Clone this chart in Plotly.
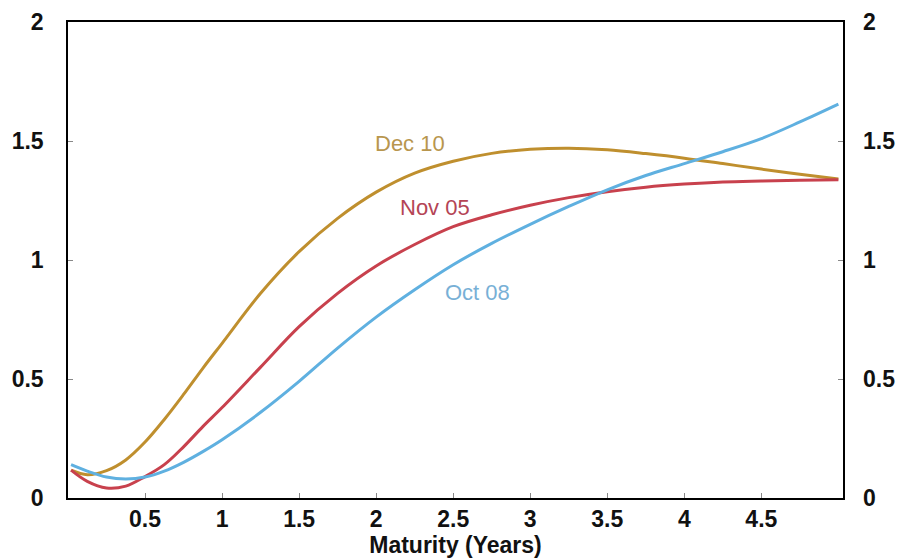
import plotly.graph_objects as go

maturity = [0.02, 0.125, 0.25, 0.375, 0.5, 0.625, 0.75, 0.875, 1.0, 1.25, 1.5, 1.75, 2.0,
            2.25, 2.5, 2.75, 3.0, 3.25, 3.5, 3.75, 4.0, 4.25, 4.5, 4.75, 5.0]

dec10 = [0.117, 0.098, 0.115, 0.160, 0.235, 0.330, 0.435, 0.545, 0.650, 0.860, 1.035, 1.175,
         1.285, 1.365, 1.415, 1.448, 1.465, 1.470, 1.463, 1.447, 1.428, 1.405, 1.382, 1.360,
         1.340]
nov05 = [0.117, 0.070, 0.042, 0.050, 0.090, 0.140, 0.215, 0.300, 0.380, 0.550, 0.720, 0.860,
         0.975, 1.065, 1.140, 1.190, 1.230, 1.262, 1.287, 1.306, 1.319, 1.328, 1.332, 1.335,
         1.337]
oct08 = [0.140, 0.113, 0.088, 0.080, 0.088, 0.113, 0.150, 0.195, 0.245, 0.360, 0.490, 0.630,
         0.760, 0.875, 0.980, 1.070, 1.150, 1.225, 1.295, 1.355, 1.405, 1.455, 1.510, 1.580,
         1.655]

series_names = ["Dec 10", "Nov 05", "Oct 08"]
line_colors = ["#bf8f2e", "#c8414d", "#5fb0e0"]
label_colors = ["#b8964e", "#b44455", "#78b0d6"]
label_pos = [(2.22, 1.49), (2.38, 1.22), (2.66, 0.865)]

x_ticks = [0.5, 1, 1.5, 2, 2.5, 3, 3.5, 4, 4.5]
x_ticklabels = ["0.5", "1", "1.5", "2", "2.5", "3", "3.5", "4", "4.5"]
y_ticks = [0, 0.5, 1, 1.5, 2]
y_ticklabels = ["0", "0.5", "1", "1.5", "2"]

fig = go.Figure()
for name, ys, col in zip(series_names, [dec10, nov05, oct08], line_colors):
    fig.add_trace(go.Scatter(x=maturity, y=ys, mode="lines", name=name,
                             line=dict(color=col, width=3, shape="spline", smoothing=1.0),
                             showlegend=False))
# invisible trace for right axis
fig.add_trace(go.Scatter(x=[maturity[0]], y=[dec10[0]], yaxis="y2", mode="markers",
                         marker=dict(opacity=0), showlegend=False, hoverinfo="skip"))

for name, (lx, ly), col in zip(series_names, label_pos, label_colors):
    fig.add_annotation(x=lx, y=ly, text=name, showarrow=False,
                       font=dict(family="Liberation Sans, Arial, sans-serif", size=22, color=col))

tickfont = dict(family="Liberation Sans, Arial, sans-serif", size=23, color="#111111", weight="bold")

fig.update_layout(
    width=903, height=560,
    margin=dict(l=68, r=60, t=22, b=62),
    paper_bgcolor="white", plot_bgcolor="white",
    xaxis=dict(range=[0, 5.03], tickmode="array", tickvals=x_ticks, ticktext=x_ticklabels,
               ticks="inside", ticklen=5, tickcolor="#888888", tickwidth=1,
               showline=True, linecolor="black", linewidth=1.5, mirror=True,
               showgrid=False, zeroline=False, tickfont=tickfont, automargin=False,
               title=dict(text="Maturity (Years)", standoff=2,
                          font=dict(family="Liberation Sans, Arial, sans-serif", size=23,
                                    color="#111111", weight="bold"))),
    yaxis=dict(range=[0, 2], tickmode="array", tickvals=y_ticks, ticktext=y_ticklabels,
               ticks="inside", ticklen=5, tickcolor="#888888", tickwidth=1,
               showline=True, linecolor="black", linewidth=1.5, mirror=True,
               showgrid=False, zeroline=False, tickfont=tickfont, ticklabelstandoff=18,
               automargin=False),
    yaxis2=dict(range=[0, 2], overlaying="y", side="right", tickmode="array",
                tickvals=y_ticks, ticktext=y_ticklabels,
                ticks="inside", ticklen=5, tickcolor="#888888", tickwidth=1,
                showline=False, showgrid=False, zeroline=False, tickfont=tickfont,
                ticklabelstandoff=19, automargin=False),
)

fig.write_html("out.html", config={"displayModeBar": False})

# remove the default browser page margin so the figure sits at the window's corner
with open("out.html", "r", encoding="utf-8") as f:
    html = f.read()
html = html.replace("<body>", '<body style="margin:0;padding:0;overflow:hidden">', 1)
with open("out.html", "w", encoding="utf-8") as f:
    f.write(html)
